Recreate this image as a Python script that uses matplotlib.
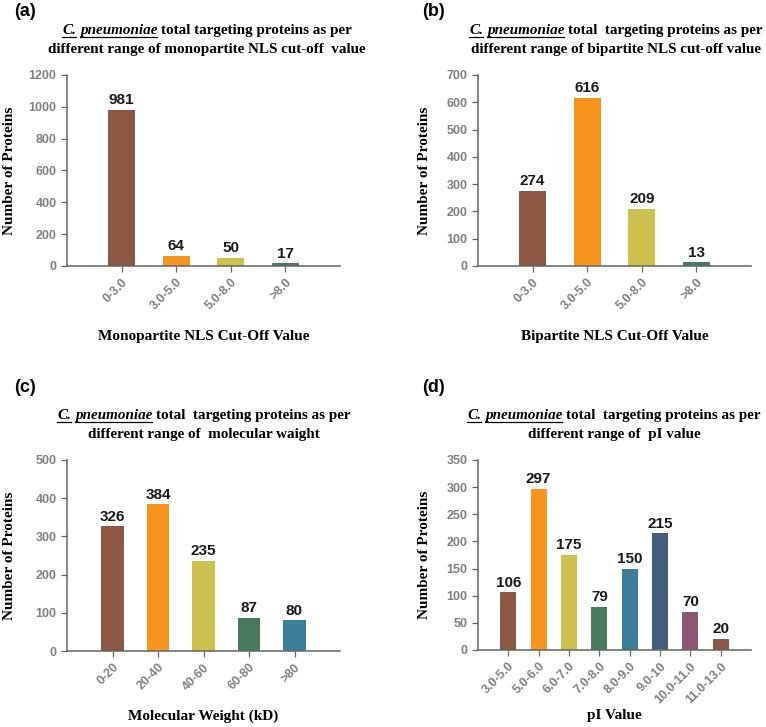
import matplotlib
matplotlib.use("Agg")
import matplotlib.pyplot as plt
from matplotlib.lines import Line2D

# data
mono_labels = ["0-3.0", "3.0-5.0", "5.0-8.0", ">8.0"]
mono_counts = [981, 64, 50, 17]
bi_labels = ["0-3.0", "3.0-5.0", "5.0-8.0", ">8.0"]
bi_counts = [274, 616, 209, 13]
mw_labels = ["0-20", "20-40", "40-60", "60-80", ">80"]
mw_counts = [326, 384, 235, 87, 80]
pi_labels = ["3.0-5.0", "5.0-6.0", "6.0-7.0", "7.0-8.0", "8.0-9.0", "9.0-10",
             "10.0-11.0", "11.0-13.0"]
pi_counts = [106, 297, 175, 79, 150, 215, 70, 20]

COLORS = ["#8C5843", "#F7941E", "#CCC04F", "#4A7A5D", "#3B7E97", "#465E7E",
          "#8D5672", "#8C5843"]
GREY = "#808080"
SANS = "Liberation Sans"
SERIF = "Liberation Serif"

fig = plt.figure(figsize=(7.66, 7.27), dpi=100)
W, H = 766, 727


def px_axes(l, r, t, b):
    return fig.add_axes([l / W, 1 - b / H, (r - l) / W, (b - t) / H])


def bar_panel(ax, labels, counts, ymax, step, xlabel, bw=0.5):
    x = range(len(counts))
    ax.bar(x, counts, width=bw, color=COLORS[:len(counts)], zorder=2)
    for xi, c in zip(x, counts):
        ax.annotate(str(c), (xi, c), xytext=(0, 2), textcoords="offset points",
                    ha="center", va="bottom", fontsize=11, fontweight="bold",
                    family=SANS, color="#1a1a1a")
    ax.set_xlim(-1, len(counts))
    ax.set_ylim(0, ymax)
    ax.set_yticks(range(0, ymax + 1, step))
    ax.set_xticks(list(x))
    ax.set_xticklabels(labels, rotation=45, ha="right", rotation_mode="anchor")
    for s in ["top", "right"]:
        ax.spines[s].set_visible(False)
    for s in ["left", "bottom"]:
        ax.spines[s].set_color("#666666")
        ax.spines[s].set_linewidth(1.1)
    ax.tick_params(colors="#666666", labelcolor=GREY, length=4, width=0.9)
    for lab in ax.get_xticklabels() + ax.get_yticklabels():
        lab.set_family(SANS)
        lab.set_fontweight("bold")
        lab.set_fontsize(9)
    ax.set_ylabel("Number of Proteins", family=SERIF, fontweight="bold",
                  fontsize=11)
    ax.set_xlabel(xlabel, family=SERIF, fontweight="bold", fontsize=11)


ax_a = px_axes(67, 340, 75, 266)
bar_panel(ax_a, mono_labels, mono_counts, 1200, 200, "Monopartite NLS Cut-Off Value")
ax_b = px_axes(478, 751, 75, 266)
bar_panel(ax_b, bi_labels, bi_counts, 700, 100, "Bipartite NLS Cut-Off Value")
ax_c = px_axes(67, 340, 460, 651)
bar_panel(ax_c, mw_labels, mw_counts, 500, 100, "Molecular Weight (kD)")
ax_d = px_axes(478, 751, 460, 650)
bar_panel(ax_d, pi_labels, pi_counts, 350, 50, "pI Value", bw=0.53)

# axis label placement (pixel positions)
for ax, ylx in [(ax_a, 16), (ax_b, 431), (ax_c, 16), (ax_d, 431)]:
    pos = ax.get_position()
    ax.yaxis.set_label_coords((ylx - pos.x0 * W) / (pos.width * W), 0.5)
for ax in [ax_a, ax_b]:
    ax.xaxis.set_label_coords(0.5, -(330 - 266) / 191)
for ax in [ax_c, ax_d]:
    ax.xaxis.set_label_coords(0.5, -(710 - 651) / 191)

# panel letters
for lab, x, y in [("(a)", 14, 12), ("(b)", 422, 12), ("(c)", 14, 387), ("(d)", 422, 387)]:
    fig.text(x / W, 1 - y / H, lab, fontsize=13, fontweight="bold", family=SANS,
             va="center", ha="left")

# titles with italic underlined species name
fig.canvas.draw()
renderer = fig.canvas.get_renderer()
TSIZE = 10.9


def text_w(s, style="normal"):
    t = fig.text(0, 0, s, family=SERIF, fontweight="bold", fontstyle=style,
                 fontsize=TSIZE)
    w = t.get_window_extent(renderer).width
    t.remove()
    return w


space_w = text_w("x x") - text_w("xx")


def title_line1(xc, y, rest):
    parts = [("C.", "italic", True), ("pneumoniae", "italic", True),
             (rest, "normal", False)]
    widths = [text_w(p[0], p[1]) for p in parts]
    total = sum(widths) + space_w * (len(parts) - 1)
    x = xc - total / 2
    ybase = H - y
    for (s, st, ul), w in zip(parts, widths):
        fig.text(x / W, ybase / H, s, family=SERIF, fontweight="bold",
                 fontstyle=st, fontsize=TSIZE, va="baseline", ha="left")
        if ul:
            yl = (ybase - 2.5) / H
            fig.add_artist(Line2D([x / W, (x + w) / W], [yl, yl], color="black",
                                  lw=0.9, transform=fig.transFigure))
        x += w + space_w


def title_line2(xc, y, s):
    fig.text(xc / W, 1 - y / H, s, family=SERIF, fontweight="bold",
             fontsize=TSIZE, va="baseline", ha="center")


title_line1(207, 34, "total targeting proteins as per")
title_line2(207, 53, "different range of monopartite NLS cut-off  value")
title_line1(616, 34, "total  targeting proteins as per")
title_line2(616, 53, "different range of bipartite NLS cut-off value")
title_line1(204, 419, "total  targeting proteins as per")
title_line2(204, 438, "different range of  molecular waight")
title_line1(614, 419, "total  targeting proteins as per")
title_line2(614, 438, "different range of  pI value")

fig.savefig("out.png", dpi=100)
